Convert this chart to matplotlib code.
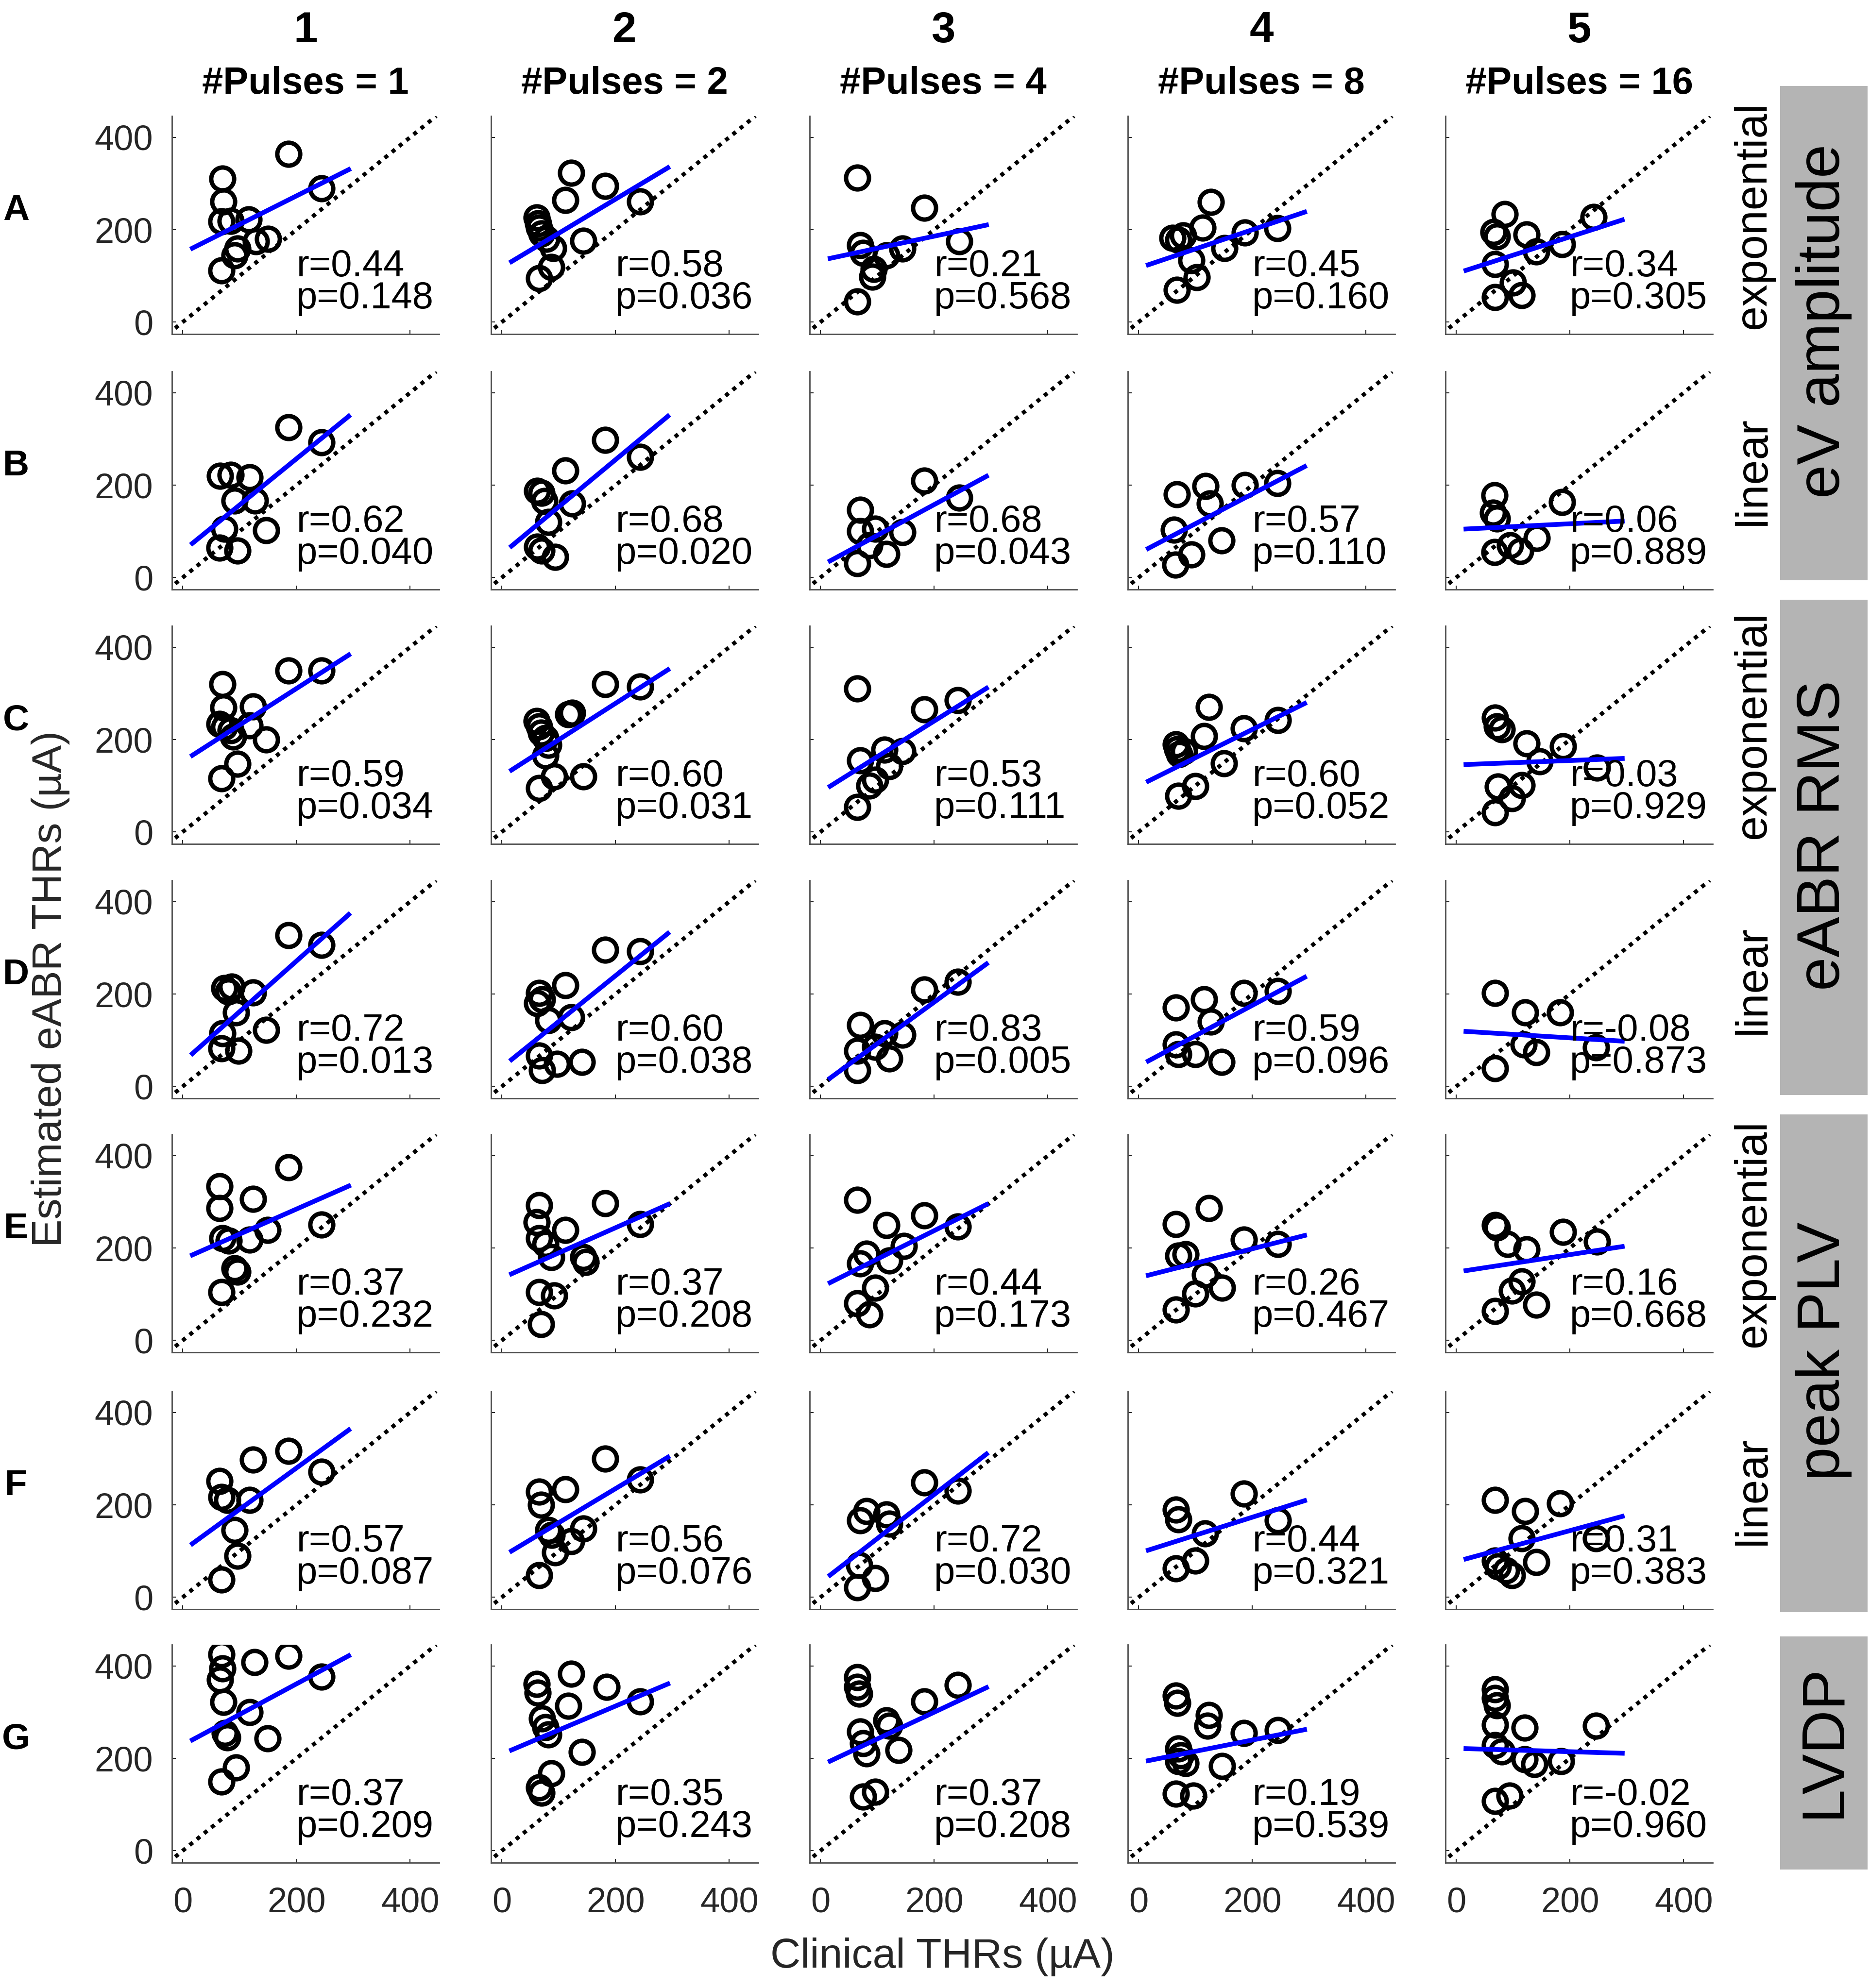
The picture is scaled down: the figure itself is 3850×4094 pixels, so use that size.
import matplotlib
matplotlib.use('Agg')
import matplotlib.pyplot as plt
from matplotlib.patches import Rectangle

plt.rcParams['font.family'] = ['Liberation Sans', 'DejaVu Sans']

# (clinical THR, estimated eABR THR) per panel, columns = #pulses 1, 2, 4, 8, 16
pts_A = [
    [(70, 310), (72, 261), (68, 218), (84, 219), (116, 222), (96, 159), (91, 144), (129, 175), (150, 180), (68, 112), (186, 364), (244, 289)],
    [(122, 323), (182, 295), (112, 264), (243, 261), (61, 226), (64, 214), (66, 204), (70, 192), (78, 180), (143, 176), (90, 160), (87, 119), (66, 95)],
    [(65, 313), (183, 247), (70, 166), (116, 144), (144, 159), (94, 115), (91, 98), (244, 175), (65, 44), (75, 150)],
    [(60, 182), (70, 178), (78, 187), (127, 260), (113, 204), (151, 160), (187, 194), (244, 203), (93, 134), (102, 97), (67, 70)],
    [(85, 234), (66, 195), (72, 185), (124, 190), (141, 153), (186, 169), (242, 227), (68, 125), (68, 54), (115, 58), (100, 85)],
]
pts_B = [
    [(66, 220), (84, 222), (118, 217), (91, 166), (127, 166), (73, 105), (65, 64), (96, 58), (147, 102), (186, 325), (244, 292)],
    [(62, 187), (70, 183), (112, 232), (182, 298), (243, 261), (124, 160), (82, 120), (62, 66), (70, 58), (94, 44), (75, 165)],
    [(70, 146), (70, 100), (96, 105), (116, 51), (65, 31), (144, 98), (183, 210), (244, 173), (86, 70)],
    [(67, 180), (118, 198), (125, 160), (187, 200), (244, 204), (62, 103), (93, 50), (146, 80), (65, 28)],
    [(67, 178), (65, 140), (72, 128), (186, 163), (67, 55), (113, 57), (142, 85), (95, 70)],
]
pts_C = [
    [(70, 320), (72, 269), (65, 234), (73, 227), (84, 220), (89, 206), (124, 272), (118, 231), (147, 200), (96, 147), (68, 116), (186, 349), (244, 349)],
    [(61, 240), (66, 228), (69, 215), (77, 203), (82, 188), (77, 165), (117, 255), (124, 258), (92, 120), (66, 95), (143, 120), (182, 320), (243, 315)],
    [(65, 310), (183, 265), (242, 285), (70, 155), (113, 178), (144, 175), (121, 142), (96, 113), (86, 100), (65, 54)],
    [(66, 190), (68, 179), (72, 168), (80, 175), (124, 270), (115, 207), (185, 224), (245, 242), (150, 148), (100, 99), (70, 78)],
    [(68, 247), (72, 228), (80, 222), (124, 192), (147, 153), (188, 185), (248, 139), (73, 98), (115, 101), (98, 73), (68, 42)],
]
pts_D = [
    [(73, 213), (86, 216), (124, 203), (94, 160), (70, 115), (68, 82), (98, 77), (147, 122), (186, 327), (244, 306), (80, 205)],
    [(66, 202), (71, 188), (62, 180), (112, 219), (122, 150), (82, 143), (66, 67), (71, 35), (97, 49), (141, 53), (182, 296), (243, 292)],
    [(70, 133), (65, 77), (65, 35), (113, 115), (144, 112), (121, 60), (96, 85), (183, 209), (242, 226)],
    [(66, 171), (115, 188), (127, 140), (185, 202), (245, 206), (66, 91), (70, 70), (100, 70), (146, 53)],
    [(68, 202), (121, 160), (183, 160), (119, 91), (141, 74), (246, 84), (68, 39)],
]
pts_E = [
    [(65, 334), (65, 286), (124, 306), (186, 375), (70, 221), (81, 216), (118, 218), (149, 239), (244, 250), (91, 156), (96, 149), (68, 104)],
    [(66, 293), (61, 256), (66, 221), (77, 208), (112, 239), (87, 180), (143, 180), (148, 170), (182, 297), (243, 252), (66, 104), (92, 97), (69, 35)],
    [(65, 304), (116, 249), (183, 270), (242, 246), (70, 166), (81, 187), (147, 204), (121, 173), (96, 114), (65, 80), (86, 56)],
    [(66, 252), (124, 286), (70, 183), (83, 186), (185, 218), (245, 208), (117, 142), (147, 114), (100, 101), (66, 66)],
    [(68, 249), (72, 244), (90, 208), (124, 197), (188, 235), (248, 214), (115, 128), (98, 108), (68, 63), (141, 77)],
]
pts_F = [
    [(65, 252), (68, 217), (78, 210), (124, 298), (186, 317), (118, 210), (244, 272), (91, 145), (96, 90), (68, 38)],
    [(66, 228), (69, 200), (112, 234), (182, 300), (243, 255), (82, 145), (88, 135), (143, 148), (122, 121), (94, 97), (66, 48)],
    [(70, 166), (81, 186), (116, 179), (121, 159), (183, 248), (242, 231), (65, 21), (96, 41), (68, 70)],
    [(66, 190), (70, 169), (117, 138), (185, 224), (245, 166), (100, 79), (66, 62)],
    [(68, 210), (121, 186), (183, 203), (115, 128), (246, 128), (68, 79), (73, 66), (88, 58), (98, 48), (141, 76)],
]
pts_G = [
    [(68, 425), (70, 395), (66, 370), (126, 408), (186, 422), (72, 322), (118, 300), (74, 255), (78, 245), (149, 243), (94, 180), (68, 150), (244, 377)],
    [(61, 361), (63, 342), (122, 383), (184, 355), (117, 314), (243, 323), (71, 286), (77, 267), (82, 252), (141, 214), (87, 167), (66, 137), (70, 125)],
    [(65, 376), (65, 355), (68, 340), (183, 323), (242, 359), (116, 282), (121, 270), (70, 258), (75, 233), (81, 211), (137, 218), (75, 117), (96, 128)],
    [(66, 336), (68, 320), (124, 294), (121, 270), (185, 255), (245, 261), (70, 221), (74, 206), (70, 194), (83, 190), (147, 183), (66, 123), (96, 119)],
    [(68, 349), (68, 330), (72, 315), (68, 273), (120, 266), (68, 228), (80, 215), (120, 198), (137, 187), (184, 194), (246, 270), (68, 108), (94, 119)],
]

# regression line: estimated THR at the two ends of fit_x
fit_x = [17, 292]
fit_lo = [
    [160, 131, 138, 124, 112],
    [74, 68, 36, 63, 105],
    [166, 134, 99, 110, 146],
    [71, 58, 18, 55, 119],
    [185, 144, 125, 141, 151],
    [116, 100, 48, 102, 83],
    [240, 218, 194, 195, 221],
]
fit_hi = [
    [330, 334, 210, 238, 221],
    [349, 349, 219, 240, 122],
    [383, 351, 311, 278, 159],
    [372, 331, 265, 236, 98],
    [334, 294, 294, 227, 203],
    [362, 303, 310, 209, 175],
    [422, 361, 353, 262, 211],
]
r_vals = [
    [0.44, 0.58, 0.21, 0.45, 0.34],
    [0.62, 0.68, 0.68, 0.57, 0.06],
    [0.59, 0.60, 0.53, 0.60, 0.03],
    [0.72, 0.60, 0.83, 0.59, -0.08],
    [0.37, 0.37, 0.44, 0.26, 0.16],
    [0.57, 0.56, 0.72, 0.44, 0.31],
    [0.37, 0.35, 0.37, 0.19, -0.02],
]
p_vals = [
    [0.148, 0.036, 0.568, 0.160, 0.305],
    [0.040, 0.020, 0.043, 0.110, 0.889],
    [0.034, 0.031, 0.111, 0.052, 0.929],
    [0.013, 0.038, 0.005, 0.096, 0.873],
    [0.232, 0.208, 0.173, 0.467, 0.668],
    [0.087, 0.076, 0.030, 0.321, 0.383],
    [0.209, 0.243, 0.208, 0.539, 0.960],
]
pulses = [1, 2, 4, 8, 16]
row_letters = ['A', 'B', 'C', 'D', 'E', 'F', 'G']
fit_types = ['exponential', 'linear', 'exponential', 'linear', 'exponential', 'linear', None]
measures = ['eV amplitude', 'eABR RMS', 'peak PLV', 'LVDP']

all_rows = [pts_A, pts_B, pts_C, pts_D, pts_E, pts_F, pts_G]

# --- layout (pixels of the 3850 x 4094 canvas) ---
W, H = 3850, 4094
fig = plt.figure(figsize=(W / 100, H / 100), dpi=100)


def fx(px):
    return px / W


def fy(py):
    return 1 - py / H


col_left = [354, 1011, 1667, 2322, 2976]
row_top = [239, 765, 1289, 1813, 2336, 2865, 3387]
pw, ph = 550, 449
xlim = (-19, 451)
ylim = (-26, 446)
axis_col = '#262626'

for i, row in enumerate(all_rows):
    for j, pts in enumerate(row):
        ax = fig.add_axes([fx(col_left[j]), fy(row_top[i] + ph), pw / W, ph / H])
        xs = [p[0] for p in pts]
        ys = [p[1] for p in pts]
        ax.plot(ylim, ylim, color='k', lw=6, linestyle=(0, (1, 1.3)), zorder=2)
        ax.plot(xs, ys, 'o', mfc='none', mec='k', ms=34, mew=6.5, zorder=3)
        ax.plot(fit_x, [fit_lo[i][j], fit_hi[i][j]], color='#0000ff', lw=7, zorder=4)
        ax.text(200, 99, f"r={r_vals[i][j]:.2f}", fontsize=56, ha='left', va='baseline', zorder=5)
        ax.text(200, 30, f"p={p_vals[i][j]:.3f}", fontsize=56, ha='left', va='baseline', zorder=5)

        ax.set_xlim(xlim)
        ax.set_ylim(ylim)
        ax.set_xticks([0, 200, 400])
        ax.set_yticks([0, 200, 400])
        for side in ['top', 'right']:
            ax.spines[side].set_visible(False)
        for side in ['left', 'bottom']:
            ax.spines[side].set_linewidth(2)
            ax.spines[side].set_color('#4d4d4d')
        ax.tick_params(axis='y', direction='in', length=6, width=1.5, colors=axis_col,
                       labelsize=52, pad=28, labelleft=(j == 0))
        ax.tick_params(axis='x', direction='in', length=6, width=1.5, colors=axis_col,
                       labelsize=52, pad=36, labelbottom=(i == len(all_rows) - 1))

    # row letter
    fig.text(fx(33), fy(row_top[i] + 0.434 * ph), row_letters[i], fontsize=54,
             fontweight='bold', ha='center', va='center')
    # fitting function label
    if fit_types[i]:
        fig.text(fx(3610), fy(row_top[i] + ph / 2 - 20), fit_types[i], fontsize=66,
                 rotation=90, ha='center', va='center')

# column headers
for j, n in enumerate(pulses):
    cx = fx(col_left[j] + pw / 2)
    fig.text(cx, fy(87), str(j + 1), fontsize=64, fontweight='bold', ha='center', va='baseline')
    fig.text(cx, fy(193), f"#Pulses = {n}", fontsize=56, fontweight='bold', ha='center', va='baseline')

# grey boxes with measure names
boxes = [(177, 1195), (1235, 2255), (2295, 3320), (3370, 3850)]
for (top, bot), name in zip(boxes, measures):
    fig.add_artist(Rectangle((fx(3665), fy(bot)), (3845 - 3665) / W, (bot - top) / H,
                             transform=fig.transFigure, facecolor='#b4b4b4', edgecolor='none'))
    fig.text(fx(3755), fy((top + bot) / 2 - 25), name, fontsize=90, rotation=90,
             ha='center', va='center')

fig.text(fx(1940), fy(4030), 'Clinical THRs (µA)', fontsize=62, color=axis_col,
         ha='center', va='center')
fig.text(fx(104), fy(2037), 'Estimated eABR THRs (µA)', fontsize=62, color=axis_col,
         rotation=90, ha='center', va='center')

fig.savefig('out.png', dpi=100, facecolor='white')
